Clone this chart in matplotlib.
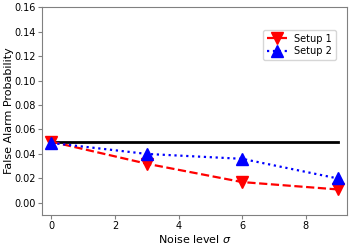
import numpy as np
import matplotlib.pyplot as plt

noise = [0, 3, 6, 9]
setup1 = [0.050, 0.032, 0.017, 0.011]
setup2 = [0.049, 0.040, 0.036, 0.020]
alpha_level = 0.05

fig = plt.figure(figsize=(3.52, 2.45), dpi=100)
ax = fig.add_axes([0.119, 0.122, 0.867, 0.849])

ax.plot([noise[0], noise[-1]], [alpha_level, alpha_level], color="black", lw=2)
ax.plot(noise, setup1, color="red", ls="--", lw=1.6, marker="v", markersize=9, label="Setup 1")
ax.plot(noise, setup2, color="blue", ls=":", lw=1.6, marker="^", markersize=9, label="Setup 2")

ax.set_xlim(-0.3, 9.3)
ax.set_ylim(-0.01, 0.16)
ax.set_xticks([0, 2, 4, 6, 8])
ax.set_yticks(np.arange(0, 0.161, 0.02))
ax.yaxis.set_major_formatter(plt.FormatStrFormatter("%.2f"))

for s in ax.spines.values():
    s.set_color("gray")
ax.tick_params(colors="gray", labelcolor="black", labelsize=7, length=3, pad=1.5)

ax.set_xlabel("Noise level $\\sigma$", fontsize=8, labelpad=1)
ax.set_ylabel("False Alarm Probability", fontsize=8, labelpad=0)

ax.legend(loc="upper right", bbox_to_anchor=(0.98, 0.915), fontsize=7,
          handlelength=2, borderpad=0.4, labelspacing=0.3)

plt.savefig("out.png", dpi=100)
